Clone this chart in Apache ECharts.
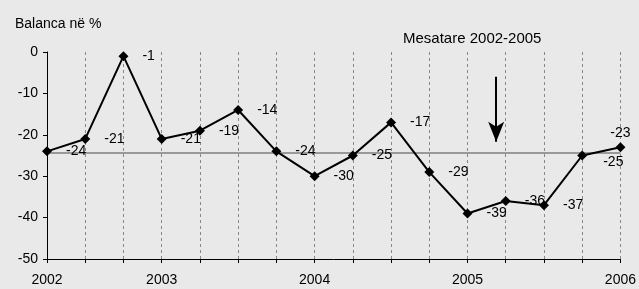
<!DOCTYPE html>
<html>
<head>
<meta charset="utf-8">
<script src="https://cdn.jsdelivr.net/npm/echarts@6/dist/echarts.min.js"></script>
<style>
html, body { margin: 0; padding: 0; background: #e9e9e9; }
#main { width: 639px; height: 289px; }
</style>
</head>
<body>
<div id="main"></div>
<script>
// tick labels along the x axis (one slot per quarter)
var xLabels = ['2002', '', '', '2003', '', '', '', '2004', '', '', '', '2005', '', '', '', '2006'];
// balance values, %
var balanca = [-24, -21, -1, -21, -19, -14, -24, -30, -25, -17, -29, -39, -36, -37, -25, -23];
// average 2002-2005 as drawn
var mesatare = -24.4;
// arrow under the "Mesatare" note: x slot and y from/to
var arrowX = 11.75;
var arrowY = [-6, -21.7];

var labelPos = {14: {position: 'right', offset: [2, 7]}, 15: {position: 'top', distance: 2}};

var points = balanca.map(function (v, i) {
    var item = {value: [i, v]};
    if (labelPos[i]) item.label = labelPos[i];
    return item;
});

var font = 'Liberation Sans, Arial, sans-serif';
var myChart = echarts.init(document.getElementById('main'));
myChart.setOption({
    backgroundColor: '#e9e9e9',
    animation: false,
    title: [
        {text: 'Balanca në %', left: 10, top: 12,
         textStyle: {fontSize: 14, fontWeight: 'normal', color: '#000', fontFamily: font}},
        {text: 'Mesatare 2002-2005', left: 398, top: 26,
         textStyle: {fontSize: 15, fontWeight: 'normal', color: '#000', fontFamily: font}}
    ],
    grid: {left: 47, right: 16, top: 52, bottom: 30},
    xAxis: {
        type: 'value',
        min: 0,
        max: 15,
        interval: 1,
        axisLine: {onZero: false, lineStyle: {color: '#000', width: 1}},
        axisTick: {show: true, length: 4, lineStyle: {color: '#000'}},
        axisLabel: {
            margin: 14, color: '#000', fontSize: 14, fontFamily: font,
            showMinLabel: true, showMaxLabel: true,
            formatter: function (v) { return xLabels[v] || ''; }
        },
        splitLine: {show: true, lineStyle: {color: '#888', type: [3, 3], width: 1}}
    },
    yAxis: {
        type: 'value',
        min: -50,
        max: 0,
        interval: 10,
        axisLine: {show: true, onZero: false, lineStyle: {color: '#000', width: 1}},
        axisTick: {show: true, length: 4, lineStyle: {color: '#000'}},
        axisLabel: {margin: 9, color: '#000', fontSize: 14, fontFamily: font},
        splitLine: {show: false}
    },
    series: [{
        type: 'line',
        data: points,
        symbol: 'diamond',
        symbolSize: 10,
        itemStyle: {color: '#000'},
        lineStyle: {color: '#000', width: 2},
        label: {
            show: true,
            position: 'right',
            distance: 14,
            color: '#000',
            fontSize: 14,
            fontFamily: font,
            formatter: function (p) { return p.value[1]; }
        },
        emphasis: {disabled: true},
        z: 5,
        markLine: {
            silent: true,
            symbol: ['none', 'none'],
            label: {show: false},
            data: [
                {yAxis: mesatare, lineStyle: {color: '#999', width: 2, type: 'solid'}},
                [
                    {coord: [arrowX, arrowY[0]], symbol: 'none',
                     lineStyle: {color: '#000', width: 2, type: 'solid'}},
                    {coord: [arrowX, arrowY[1]], symbol: 'arrow', symbolSize: [12, 20]}
                ]
            ]
        }
    }]
});
</script>
</body>
</html>
